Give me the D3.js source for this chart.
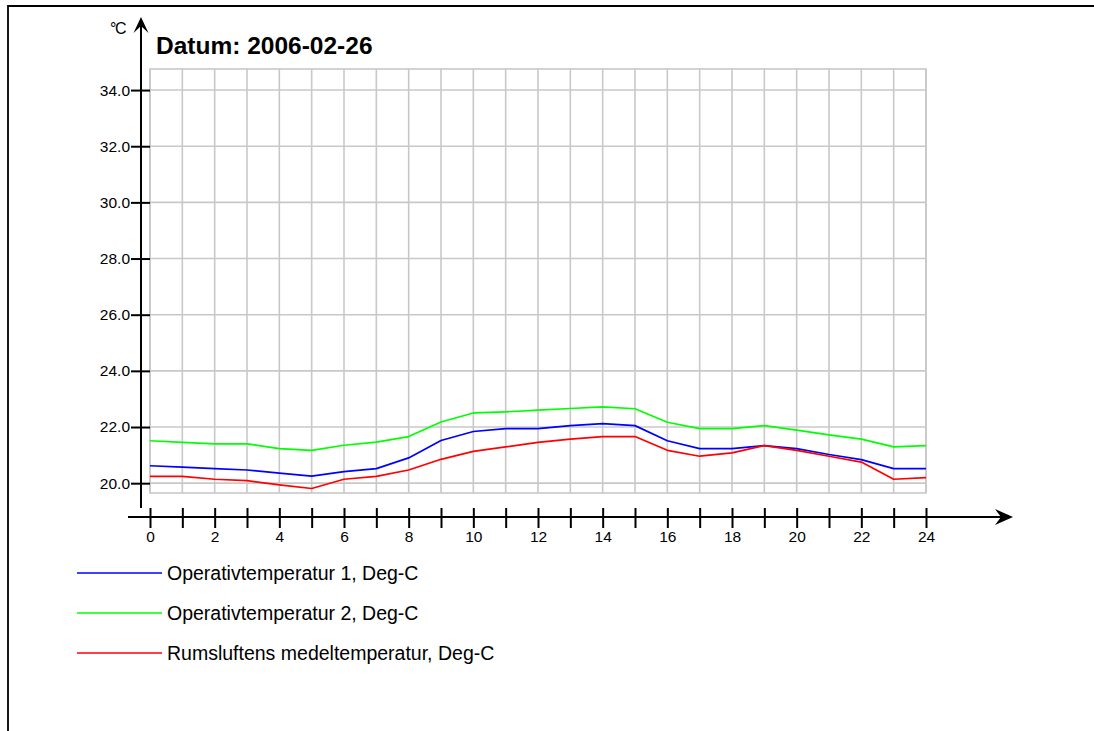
<!DOCTYPE html>
<html>
<head>
<meta charset="utf-8">
<script src="https://cdn.jsdelivr.net/npm/d3@7"></script>
<style>
  html, body { margin: 0; padding: 0; background: #fff; }
  svg { display: block; font-family: Arial, "Liberation Sans", sans-serif; }
</style>
</head>
<body>
<svg id="chart" width="1094" height="731"></svg>
<script>
// Hourly temperatures for 2006-02-26 (°C)
const hours = d3.range(0, 25);
const operativ1 = [20.62, 20.57, 20.52, 20.47, 20.36, 20.25, 20.41, 20.52, 20.90, 21.52, 21.84, 21.94, 21.94,
                   22.05, 22.12, 22.05, 21.51, 21.23, 21.23, 21.34, 21.23, 21.02, 20.84, 20.52, 20.52];
const operativ2 = [21.51, 21.45, 21.40, 21.40, 21.23, 21.17, 21.35, 21.46, 21.66, 22.18, 22.50, 22.54, 22.60,
                   22.66, 22.72, 22.65, 22.17, 21.94, 21.94, 22.05, 21.89, 21.72, 21.57, 21.29, 21.34];
const rumsluft  = [20.24, 20.24, 20.14, 20.09, 19.94, 19.81, 20.14, 20.24, 20.47, 20.85, 21.13, 21.29, 21.45,
                   21.57, 21.66, 21.66, 21.17, 20.96, 21.08, 21.34, 21.17, 20.96, 20.75, 20.14, 20.20];
const seriesNames = ["Operativtemperatur 1, Deg-C", "Operativtemperatur 2, Deg-C", "Rumsluftens medeltemperatur, Deg-C"];
const seriesColors = ["#0000ff", "#00ff00", "#ff0000"];
const yTicks = [20, 22, 24, 26, 28, 30, 32, 34];
const xLabelHours = [0, 2, 4, 6, 8, 10, 12, 14, 16, 18, 20, 22, 24];
const title = "Datum: 2006-02-26";
const unit = "°C";

const series = [operativ1, operativ2, rumsluft];

const svg = d3.select("#chart");

// plot frame
const plot = { left: 150, right: 926, top: 69, bottom: 493 };
const x = d3.scaleLinear().domain([0, 24]).range([plot.left, plot.right]);
const y = d3.scaleLinear().domain([19.65, 34.75]).range([plot.bottom, plot.top]);

// outer page border (top and left edges)
svg.append("path")
  .attr("d", "M8,731 L8,6 L1094,6")
  .attr("fill", "none").attr("stroke", "#000").attr("stroke-width", 1.8);

// grid
const grid = svg.append("g").attr("stroke", "#c8c8c8").attr("stroke-width", 1.6).attr("fill", "none");
grid.append("rect")
  .attr("x", plot.left).attr("y", plot.top)
  .attr("width", plot.right - plot.left).attr("height", plot.bottom - plot.top);
grid.selectAll("line.h").data(yTicks).join("line").attr("class", "h")
  .attr("x1", plot.left).attr("x2", plot.right)
  .attr("y1", d => y(d)).attr("y2", d => y(d));
grid.selectAll("line.v").data(hours).join("line").attr("class", "v")
  .attr("x1", d => x(d)).attr("x2", d => x(d))
  .attr("y1", plot.top).attr("y2", plot.bottom);

// y axis line with arrow
const yAxisX = 141;
svg.append("line")
  .attr("x1", yAxisX).attr("x2", yAxisX).attr("y1", 22).attr("y2", 508)
  .attr("stroke", "#000").attr("stroke-width", 2);
svg.append("path")
  .attr("d", `M${yAxisX},17 L${yAxisX + 7.5},33 L${yAxisX},26 L${yAxisX - 7.5},33 Z`)
  .attr("fill", "#000");

// y ticks and labels
const yAxis = d3.axisLeft(y).tickValues(yTicks).tickFormat(d3.format(".1f"))
  .tickSize(19).tickPadding(1).tickSizeOuter(0);
const gy = svg.append("g").attr("transform", `translate(${plot.left},0)`).call(yAxis);
gy.select(".domain").remove();
gy.selectAll(".tick line").attr("stroke", "#000").attr("stroke-width", 2);
gy.selectAll(".tick text").style("font-size", "15.5px").attr("fill", "#000")
  .style("font-family", "Arial, 'Liberation Sans', sans-serif");

// x axis line with arrow
const xAxisY = 517;
svg.append("line")
  .attr("x1", 128).attr("x2", 1006).attr("y1", xAxisY).attr("y2", xAxisY)
  .attr("stroke", "#000").attr("stroke-width", 2);
svg.append("path")
  .attr("d", `M1013,${xAxisY} L995,${xAxisY - 8} L1001,${xAxisY} L995,${xAxisY + 8} Z`)
  .attr("fill", "#000");

// x ticks (every hour) and labels (every second hour)
const xAxis = d3.axisBottom(x).tickValues(hours)
  .tickFormat(d => xLabelHours.includes(d) ? String(d) : "")
  .tickSize(20).tickPadding(3).tickSizeOuter(0);
const gx = svg.append("g").attr("transform", "translate(0,508)").call(xAxis);
gx.select(".domain").remove();
gx.selectAll(".tick line").attr("stroke", "#000").attr("stroke-width", 2);
gx.selectAll(".tick text").style("font-size", "15.5px").attr("fill", "#000")
  .style("font-family", "Arial, 'Liberation Sans', sans-serif");

// unit label and title
svg.append("text").attr("x", 110).attr("y", 34)
  .attr("font-size", 16).attr("letter-spacing", -1.5).text(unit);
svg.append("text").attr("x", 156).attr("y", 54)
  .attr("font-size", 24.5).attr("font-weight", "bold").text(title);

// data lines
const line = d3.line().x((d, i) => x(hours[i])).y(d => y(d));
svg.append("g").selectAll("path").data(series).join("path")
  .attr("d", line)
  .attr("fill", "none")
  .attr("stroke", (d, i) => seriesColors[i])
  .attr("stroke-width", 1.7)
  .attr("stroke-linejoin", "round");

// legend
const legend = svg.append("g").selectAll("g").data(seriesNames).join("g")
  .attr("transform", (d, i) => `translate(0,${573 + i * 40})`);
legend.append("line")
  .attr("x1", 77).attr("x2", 162).attr("y1", 0).attr("y2", 0)
  .attr("stroke", (d, i) => seriesColors[i]).attr("stroke-width", 1.7);
legend.append("text")
  .attr("x", 167).attr("y", 0).attr("dy", "0.36em")
  .attr("font-size", 19.5).attr("fill", "#000")
  .text(d => d);
</script>
</body>
</html>
